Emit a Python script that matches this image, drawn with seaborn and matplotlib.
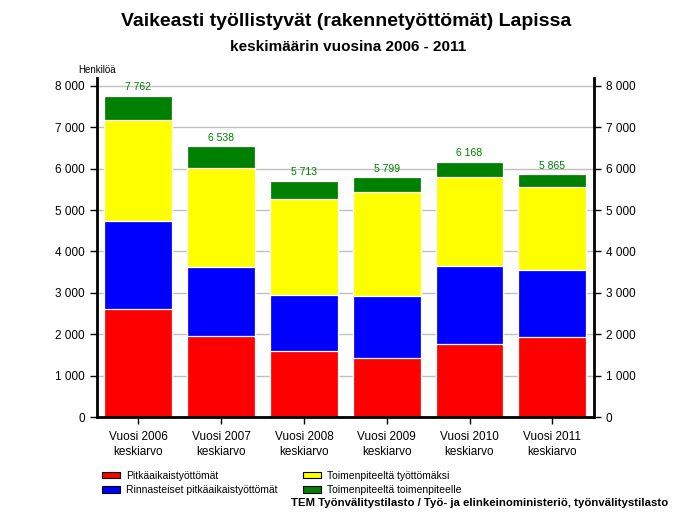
import numpy as np
import pandas as pd
import seaborn as sns
import matplotlib.pyplot as plt
from matplotlib.patches import Patch
from matplotlib.ticker import FuncFormatter, MultipleLocator

years = ["Vuosi 2006\nkeskiarvo", "Vuosi 2007\nkeskiarvo", "Vuosi 2008\nkeskiarvo",
         "Vuosi 2009\nkeskiarvo", "Vuosi 2010\nkeskiarvo", "Vuosi 2011\nkeskiarvo"]
pitkaaikaiset = [2610, 1950, 1590, 1420, 1765, 1925]
rinnasteiset = [2125, 1665, 1350, 1495, 1875, 1620]
toim_tyottomaksi = [2440, 2390, 2325, 2515, 2155, 2000]
toim_toimenpiteelle = [587, 533, 448, 369, 373, 320]
series_names = ["Pitkäaikaistyöttömät", "Rinnasteiset pitkäaikaistyöttömät",
                "Toimenpiteeltä työttömäksi", "Toimenpiteeltä toimenpiteelle"]
colors = ["#ff0000", "#0000ff", "#ffff00", "#008000"]

df = pd.DataFrame({"vuosi": years,
                   series_names[0]: pitkaaikaiset,
                   series_names[1]: rinnasteiset,
                   series_names[2]: toim_tyottomaksi,
                   series_names[3]: toim_toimenpiteelle})

sns.set_style("white")
plt.rcParams["font.family"] = ["Liberation Sans", "DejaVu Sans"]
plt.rcParams["text.color"] = "black"
plt.rcParams["xtick.color"] = "black"
plt.rcParams["ytick.color"] = "black"

fig = plt.figure(figsize=(6.92, 5.19), dpi=100)
ax = fig.add_axes([0.140, 0.1965, 0.718, 0.654])

# stacked bars: draw cumulative sums from the top segment down
cum = df[series_names].cumsum(axis=1)
for name, col in reversed(list(zip(series_names, colors))):
    sns.barplot(x=df["vuosi"], y=cum[name], color=col, width=0.82,
                edgecolor="white", linewidth=0.9, saturation=1, ax=ax, zorder=2)

totals = cum[series_names[-1]].values
ax.bar_label(ax.containers[0], labels=[f"{t:,}".replace(",", " ") for t in totals],
             color="#008000", fontsize=7.5, padding=2.5)

fmt = FuncFormatter(lambda v, p: f"{int(v):,}".replace(",", " "))
ax.set_ylim(0, 8200)
ax.set_xlim(-0.5, 5.5)
ax.yaxis.set_major_locator(MultipleLocator(1000))
ax.yaxis.set_major_formatter(fmt)
ax.grid(axis="y", color="#c0c0c0", linewidth=1, zorder=0)
ax.set_axisbelow(True)
ax.set_xlabel("")
ax.set_ylabel("")
for s in ["left", "right", "bottom"]:
    ax.spines[s].set_linewidth(2)
    ax.spines[s].set_color("black")
ax.spines["top"].set_visible(False)
ax.tick_params(axis="y", direction="out", length=5, width=1, labelsize=8.5, left=True)
ax.tick_params(axis="x", direction="out", length=5, width=1, labelsize=8.5, bottom=True, pad=5)
for lbl in ax.get_xticklabels():
    lbl.set_linespacing(1.35)

ax2 = ax.twinx()
ax2.set_ylim(ax.get_ylim())
ax2.yaxis.set_major_locator(MultipleLocator(1000))
ax2.yaxis.set_major_formatter(fmt)
ax2.tick_params(axis="y", direction="out", length=5, width=1, labelsize=8.5, right=True)
for s in ["left", "right", "bottom", "top"]:
    ax2.spines[s].set_visible(False)

fig.text(0.500, 0.958, "Vaikeasti työllistyvät (rakennetyöttömät) Lapissa",
         ha="center", va="center", fontsize=14, fontweight="bold")
fig.text(0.503, 0.910, "keskimäärin vuosina 2006 - 2011",
         ha="center", va="center", fontsize=11, fontweight="bold")
fig.text(0.113, 0.866, "Henkilöä", ha="left", va="center", fontsize=7)

handles = [Patch(facecolor=c, edgecolor="black", linewidth=0.8) for c in colors]
fig.legend(handles, series_names, ncol=2, loc="upper left",
           bbox_to_anchor=(0.142, 0.101), frameon=False, fontsize=7.5,
           handlelength=1.7, handleheight=0.6, handletextpad=0.6,
           columnspacing=2.4, labelspacing=0.45, borderaxespad=0)

fig.text(0.965, 0.031, "TEM Työnvälitystilasto / Työ- ja elinkeinoministeriö, työnvälitystilasto",
         ha="right", va="center", fontsize=8.2, fontweight="bold")

fig.savefig("out.png", dpi=100)
